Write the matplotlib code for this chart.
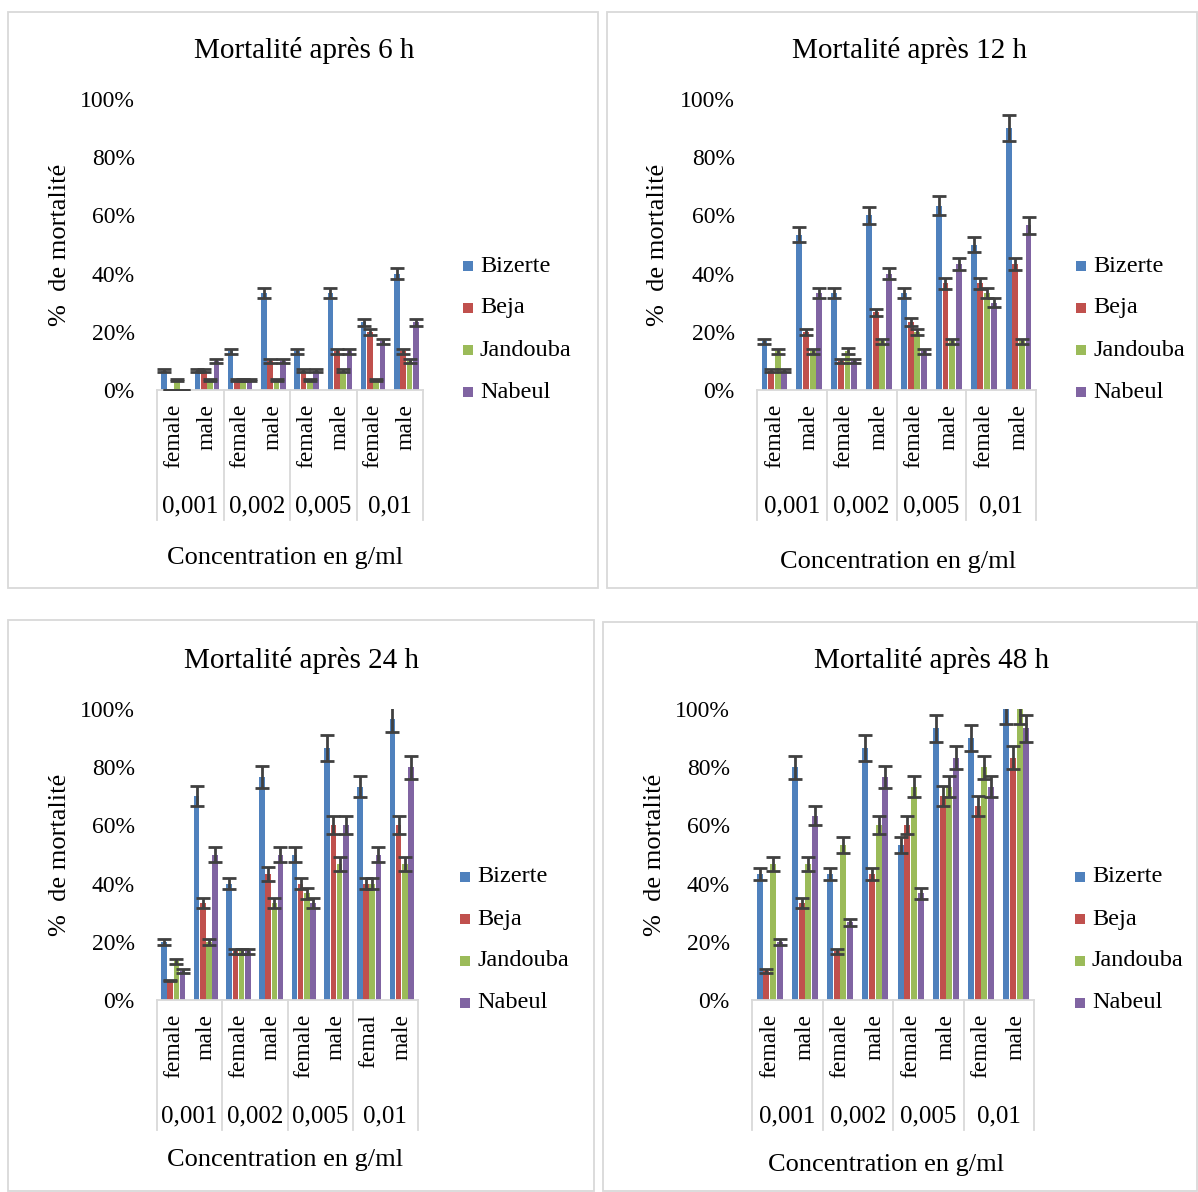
import numpy as np
import matplotlib
matplotlib.use('Agg')
import matplotlib.pyplot as plt
from matplotlib.patches import Rectangle
from matplotlib.ticker import PercentFormatter
import matplotlib.transforms as mtransforms

plt.rcParams['font.family'] = ['Liberation Serif', 'DejaVu Serif']

W, H = 1198, 1192

# data (% mortality), 8 categories: female/male for each concentration
regions = ['Bizerte', 'Beja', 'Jandouba', 'Nabeul']
colors = ['#4F81BD', '#C0504D', '#9BBB59', '#8064A2']
concentrations = ['0,001', '0,002', '0,005', '0,01']

t6_bizerte = [6.67, 6.67, 13.33, 33.33, 13.33, 33.33, 23.33, 40.0]
t6_beja = [0, 6.67, 3.33, 10.0, 6.67, 13.33, 20.0, 13.33]
t6_jandouba = [3.33, 3.33, 3.33, 3.33, 3.33, 6.67, 3.33, 10.0]
t6_nabeul = [0, 10.0, 3.33, 10.0, 6.67, 13.33, 16.67, 23.33]
t6_err_bizerte = [0.5, 0.5, 0.8, 1.8, 0.8, 1.8, 1.2, 2.0]
t6_err_beja = [0, 0.5, 0.3, 0.7, 0.5, 0.8, 1.0, 0.8]
t6_err_jandouba = [0.3, 0.3, 0.3, 0.3, 0.3, 0.5, 0.3, 0.7]
t6_err_nabeul = [0, 0.7, 0.3, 0.7, 0.5, 0.8, 0.8, 1.2]

t12_bizerte = [16.67, 53.33, 33.33, 60.0, 33.33, 63.33, 50.0, 90.0]
t12_beja = [6.67, 20.0, 10.0, 26.67, 23.33, 36.67, 36.67, 43.33]
t12_jandouba = [13.33, 13.33, 13.33, 16.67, 20.0, 16.67, 33.33, 16.67]
t12_nabeul = [6.67, 33.33, 10.0, 40.0, 13.33, 43.33, 30.0, 56.67]
t12_err_bizerte = [1.0, 2.6, 1.8, 2.9, 1.8, 3.3, 2.6, 4.6]
t12_err_beja = [0.4, 1.0, 0.6, 1.3, 1.3, 1.8, 1.8, 2.1]
t12_err_jandouba = [0.8, 0.9, 1.0, 0.9, 1.0, 0.9, 1.8, 0.9]
t12_err_nabeul = [0.4, 1.8, 0.6, 2.0, 0.8, 2.1, 1.5, 2.9]

t24_bizerte = [20.0, 70.0, 40.0, 76.67, 50.0, 86.67, 73.33, 96.67]
t24_beja = [6.67, 33.33, 16.67, 43.33, 40.0, 60.0, 40.0, 60.0]
t24_jandouba = [13.33, 20.0, 16.67, 33.33, 36.67, 46.67, 40.0, 46.67]
t24_nabeul = [10.0, 50.0, 16.67, 50.0, 33.33, 60.0, 50.0, 80.0]
t24_err_bizerte = [1.1, 3.4, 2.0, 3.8, 2.5, 4.5, 3.7, 4.5]
t24_err_beja = [0.3, 1.7, 0.9, 2.3, 2.0, 3.1, 2.0, 3.1]
t24_err_jandouba = [0.9, 1.1, 0.9, 1.7, 1.9, 2.4, 2.0, 2.4]
t24_err_nabeul = [0.7, 2.5, 0.9, 2.5, 1.7, 3.1, 2.5, 4.0]

t48_bizerte = [43.33, 80.0, 43.33, 86.67, 53.33, 93.33, 90.0, 100.0]
t48_beja = [10.0, 33.33, 16.67, 43.33, 60.0, 70.0, 66.67, 83.33]
t48_jandouba = [46.67, 46.67, 53.33, 60.0, 73.33, 73.33, 80.0, 100.0]
t48_nabeul = [20.0, 63.33, 26.67, 76.67, 36.67, 83.33, 73.33, 93.33]
t48_err_bizerte = [2.2, 4.0, 2.2, 4.5, 2.7, 4.7, 4.6, 5.0]
t48_err_beja = [0.7, 1.7, 0.9, 2.2, 3.1, 3.4, 3.3, 4.1]
t48_err_jandouba = [2.4, 2.4, 2.7, 3.1, 3.7, 3.7, 4.0, 5.0]
t48_err_nabeul = [1.1, 3.3, 1.3, 3.8, 1.9, 4.1, 3.7, 4.7]

sex_labels = ['female', 'male'] * 4
sex_labels_24 = ['female', 'male', 'female', 'male', 'female', 'male', 'femal', 'male']

panels = [
    dict(title='Mortalité après 6 h',
         vals=[t6_bizerte, t6_beja, t6_jandouba, t6_nabeul],
         errs=[t6_err_bizerte, t6_err_beja, t6_err_jandouba, t6_err_nabeul],
         sex=sex_labels, box=(8, 12, 598, 588), plot=(157, 99, 423, 390),
         title_xy=(304, 51), ylab_x=60, xlab_xy=(285, 558), leg_x=468, leg_y=266,
         group_y=506, group_bottom=520),
    dict(title='Mortalité après 12 h',
         vals=[t12_bizerte, t12_beja, t12_jandouba, t12_nabeul],
         errs=[t12_err_bizerte, t12_err_beja, t12_err_jandouba, t12_err_nabeul],
         sex=sex_labels, box=(607, 12, 1197, 588), plot=(757, 99, 1036, 390),
         title_xy=(909, 51), ylab_x=658, xlab_xy=(898, 562), leg_x=1081, leg_y=266,
         group_y=506, group_bottom=520),
    dict(title='Mortalité après 24 h',
         vals=[t24_bizerte, t24_beja, t24_jandouba, t24_nabeul],
         errs=[t24_err_bizerte, t24_err_beja, t24_err_jandouba, t24_err_nabeul],
         sex=sex_labels_24, box=(8, 620, 594, 1191), plot=(157, 709, 418, 1000),
         title_xy=(302, 661), ylab_x=60, xlab_xy=(285, 1160), leg_x=465, leg_y=877,
         group_y=1116, group_bottom=1130),
    dict(title='Mortalité après 48 h',
         vals=[t48_bizerte, t48_beja, t48_jandouba, t48_nabeul],
         errs=[t48_err_bizerte, t48_err_beja, t48_err_jandouba, t48_err_nabeul],
         sex=sex_labels, box=(603, 622, 1197, 1191), plot=(752, 709, 1034, 1000),
         title_xy=(932, 661), ylab_x=655, xlab_xy=(886, 1165), leg_x=1080, leg_y=877,
         group_y=1116, group_bottom=1130),
]

fig = plt.figure(figsize=(W / 100, H / 100), dpi=100)


def fx(px):
    return px / W


def fy(py):
    return 1 - py / H


grey = '#D9D9D9'
x = np.arange(8)
width = 0.17
offsets = np.array([-1.5, -0.5, 0.5, 1.5]) * 0.19

for p in panels:
    bx0, by0, bx1, by1 = p['box']
    fig.patches.append(Rectangle((fx(bx0), fy(by1)), fx(bx1 - bx0), (by1 - by0) / H,
                                 transform=fig.transFigure, fill=False,
                                 edgecolor=grey, linewidth=1.3))
    px0, py0, px1, py1 = p['plot']
    ax = fig.add_axes([fx(px0), fy(py1), fx(px1 - px0), (py1 - py0) / H])

    for i, (v, e) in enumerate(zip(p['vals'], p['errs'])):
        ax.bar(x + offsets[i], v, width, color=colors[i], zorder=2)
        ax.errorbar(x + offsets[i], v, yerr=e, fmt='none', ecolor='#404040',
                    elinewidth=2, capsize=5, capthick=2, zorder=3)

    ax.set_xlim(-0.5, 7.5)
    ax.set_ylim(0, 100)
    ax.set_yticks([0, 20, 40, 60, 80, 100])
    ax.yaxis.set_major_formatter(PercentFormatter(xmax=100, decimals=0))
    ax.tick_params(axis='y', length=0, pad=16, labelsize=17)
    ax.set_xticks([])
    for s in ['top', 'right', 'left']:
        ax.spines[s].set_visible(False)
    ax.spines['bottom'].set_color(grey)
    ax.spines['bottom'].set_linewidth(1.3)

    # multi-level category axis
    ph = py1 - py0
    trans = mtransforms.blended_transform_factory(ax.transData, ax.transAxes)
    ext = -(p['group_bottom'] - py1) / ph
    for b in [-0.5, 1.5, 3.5, 5.5, 7.5]:
        ax.plot([b, b], [0, ext], transform=trans, color=grey, lw=1.3,
                clip_on=False)
    for i, lab in enumerate(p['sex']):
        ax.text(x[i], -14 / ph, lab, transform=trans, rotation=90, ha='center',
                va='top', fontsize=17)
    for g, c in enumerate(concentrations):
        ax.text(2 * g + 0.5, -(p['group_y'] - py1) / ph, c, transform=trans,
                ha='center', va='center', fontsize=18)

    fig.text(fx(p['title_xy'][0]), fy(p['title_xy'][1]), p['title'],
             ha='center', va='center', fontsize=21)
    fig.text(fx(p['ylab_x']), fy((py0 + py1) / 2), '%  de mortalité',
             rotation=90, ha='center', va='center', fontsize=19)
    fig.text(fx(p['xlab_xy'][0]), fy(p['xlab_xy'][1]), 'Concentration en g/ml',
             ha='center', va='center', fontsize=19)

    for i, r in enumerate(regions):
        ly = p['leg_y'] + i * 42
        fig.patches.append(Rectangle((fx(p['leg_x'] - 5), fy(ly + 5)), fx(10), 10 / H,
                                     transform=fig.transFigure,
                                     facecolor=colors[i], edgecolor='none'))
        fig.text(fx(p['leg_x'] + 12), fy(ly), r, ha='left', va='center',
                 fontsize=17.5)

fig.savefig('out.png', dpi=100)
